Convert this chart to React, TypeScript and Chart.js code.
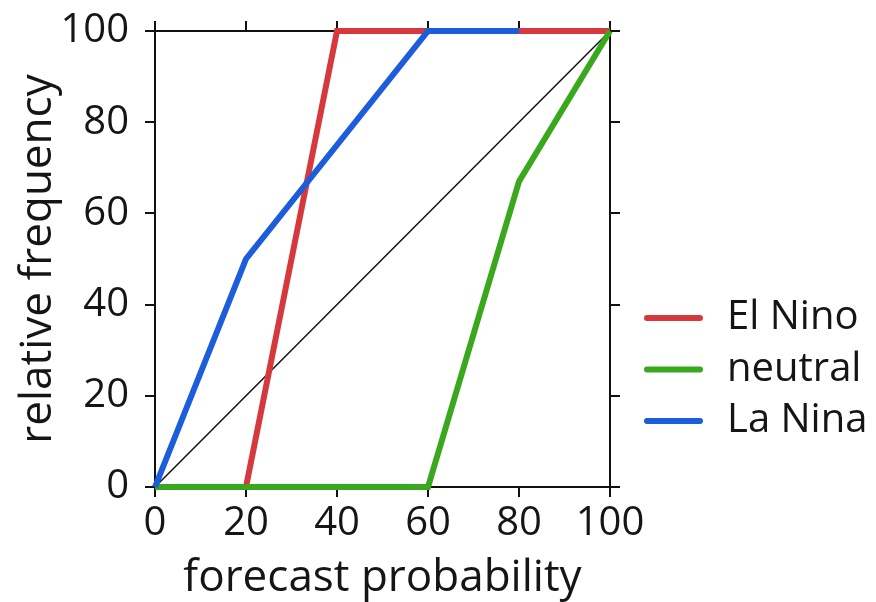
import React, { useEffect, useRef } from "react";
import { Chart, registerables } from "chart.js";

Chart.register(...registerables);

const probabilities = [0, 20, 40, 60, 80, 100];
const elNino = [0, 0, 100, 100, 100, 100];
const neutral = [0, 0, 0, 0, 67, 100];
const laNina = [0, 50, 75, 100, 100, null];
const diagonalX = [0, 100];
const diagonalY = [0, 100];
const seriesLabels = ["El Nino", "neutral", "La Nina"];
const seriesColors = ["#d6393d", "#3aa81c", "#1c5ddc"];
const axisTicks = [0, 20, 40, 60, 80, 100];

const FONT = "'Open Sans', sans-serif";

const toPoints = (xs: number[], ys: (number | null)[]) =>
  xs.map((x, i) => ({ x, y: ys[i] }));

const legendPlugin = {
  id: "sideLegend",
  afterDraw(chart: any) {
    const { ctx, chartArea } = chart;
    const items = chart.data.datasets.filter((d: any) => d.label);
    ctx.save();
    ctx.font = `40px ${FONT}`;
    ctx.textBaseline = "middle";
    ctx.textAlign = "left";
    items.forEach((d: any, i: number) => {
      const y = chartArea.bottom - 169 + i * 51.5;
      ctx.strokeStyle = d.borderColor;
      ctx.lineWidth = 6;
      ctx.lineCap = "round";
      ctx.beginPath();
      ctx.moveTo(chartArea.right + 37, y);
      ctx.lineTo(chartArea.right + 90, y);
      ctx.stroke();
      ctx.fillStyle = "#151515";
      ctx.fillText(d.label, chartArea.right + 117, y);
    });
    ctx.restore();
  },
};

export default function App() {
  const ref = useRef<HTMLCanvasElement | null>(null);

  useEffect(() => {
    if (!ref.current) return;
    const gridOpts = {
      display: true,
      drawOnChartArea: false,
      drawTicks: true,
      tickLength: 10,
      color: "#111",
      lineWidth: 2,
    };
    const borderOpts = { display: true, color: "#111", width: 2 };
    const tickValues = (axis: any) => {
      axis.ticks = axisTicks.map((v) => ({ value: v }));
    };
    const chart = new Chart(ref.current, {
      type: "line",
      data: {
        datasets: [
          {
            label: seriesLabels[0],
            data: toPoints(probabilities, elNino),
            borderColor: seriesColors[0],
            backgroundColor: seriesColors[0],
            borderWidth: 6,
            order: 2,
          },
          {
            label: seriesLabels[1],
            data: toPoints(probabilities, neutral),
            borderColor: seriesColors[1],
            backgroundColor: seriesColors[1],
            borderWidth: 6,
            order: 1,
          },
          {
            label: seriesLabels[2],
            data: toPoints(probabilities, laNina),
            borderColor: seriesColors[2],
            backgroundColor: seriesColors[2],
            borderWidth: 6,
            order: 0,
          },
          {
            label: "",
            data: toPoints(diagonalX, diagonalY),
            borderColor: "#111",
            backgroundColor: "#111",
            borderWidth: 1.5,
            order: 3,
          },
        ],
      },
      options: {
        responsive: false,
        animation: false,
        layout: { padding: { left: 0, top: 19, right: 254, bottom: 0 } },
        elements: {
          point: { radius: 0, hoverRadius: 0 },
          line: { tension: 0, fill: false, borderCapStyle: "butt", borderJoinStyle: "miter" },
        },
        datasets: { line: { clip: false as any, spanGaps: false } },
        plugins: {
          legend: { display: false },
          tooltip: { enabled: false },
        },
        scales: {
          x: {
            type: "linear",
            position: "bottom",
            min: 0,
            max: 100,
            z: 1,
            afterBuildTicks: tickValues,
            afterFit: (s: any) => { s.height = 115; },
            grid: gridOpts,
            border: borderOpts,
            ticks: { font: { family: FONT, size: 40 }, color: "#151515", padding: 3, maxRotation: 0 },
            title: {
              display: true,
              text: "forecast probability",
              font: { family: FONT, size: 44, lineHeight: 1.05 },
              color: "#151515",
              padding: { top: 0, bottom: 0 },
            },
          },
          x2: {
            type: "linear",
            position: "top",
            min: 0,
            max: 100,
            z: 1,
            afterBuildTicks: tickValues,
            afterFit: (s: any) => { s.height = 12; },
            grid: gridOpts,
            border: borderOpts,
            ticks: { display: false },
          },
          y: {
            type: "linear",
            position: "left",
            min: 0,
            max: 100,
            z: 1,
            afterBuildTicks: tickValues,
            afterFit: (s: any) => { s.width = 155; },
            grid: gridOpts,
            border: borderOpts,
            ticks: { font: { family: FONT, size: 40, lineHeight: 0.6 }, color: "#151515", padding: 16 },
            title: {
              display: true,
              text: "relative frequency",
              font: { family: FONT, size: 44 },
              color: "#151515",
              padding: { top: 12, bottom: 0 },
            },
          },
          y2: {
            type: "linear",
            position: "right",
            min: 0,
            max: 100,
            z: 1,
            afterBuildTicks: tickValues,
            afterFit: (s: any) => { s.width = 12; },
            grid: gridOpts,
            border: borderOpts,
            ticks: { display: false },
          },
        },
      } as any,
      plugins: [legendPlugin],
    });
    return () => chart.destroy();
  }, []);

  return (
    <div style={{ position: "fixed", left: 0, top: 0, width: 876, height: 602, background: "#fff" }}>
      <canvas ref={ref} width={876} height={602} />
    </div>
  );
}
